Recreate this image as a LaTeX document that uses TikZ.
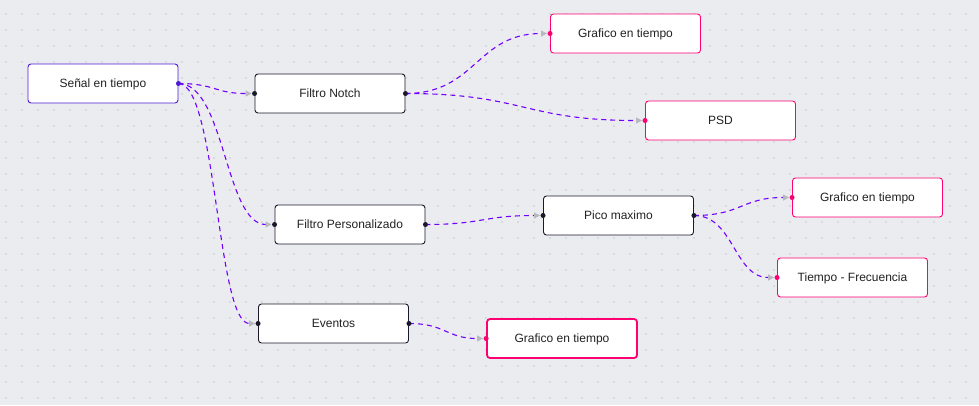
\documentclass[tikz,border=0pt]{standalone}
\usepackage{fontspec}
\setmainfont{Liberation Sans}
\usetikzlibrary{arrows.meta,calc}
\definecolor{bgc}{HTML}{EBECEF}
\definecolor{dotc}{HTML}{9A9AA2}
\definecolor{edgec}{HTML}{7000FF}
\definecolor{srcc}{HTML}{4D1BD6}
\definecolor{darkc}{HTML}{1A192B}
\definecolor{pinkc}{HTML}{FF0072}
\definecolor{tipc}{HTML}{B8B8C0}
\definecolor{txtc}{HTML}{222222}
\tikzset{
  flow/.style={draw=darkc, line width=0.9pt, fill=white, rounded corners=3pt,
    minimum width=150pt, minimum height=39pt, inner sep=0pt,
    text height=10.86pt, text depth=2.54pt,
    font=\fontsize{12pt}{14pt}\selectfont, text=txtc},
  srcnode/.style={flow, draw=srcc},
  outnode/.style={flow, draw=pinkc},
  selnode/.style={flow, draw=pinkc, line width=1.8pt},
  edge/.style={draw=edgec, line width=1.1pt, dash pattern=on 5pt off 4pt,
    -{Triangle[length=6pt,width=6pt,fill=tipc,color=tipc]}},
  hdl/.style={circle, fill=#1, inner sep=0pt, minimum size=5pt}
}
\newcommand\flowedge[2]{%
  \coordinate (tt) at ([xshift=-3pt]#2.west);
  \coordinate (mm) at ($(#1.east)!0.5!(tt)$);
  \draw[edge] (#1.east) .. controls (mm |- #1.east) and (mm |- tt) .. (tt);
}
\begin{document}
\begin{tikzpicture}[x=1pt,y=-1pt]
\fill[bgc] (0,0) rectangle (979,405);
\useasboundingbox (0,0) rectangle (979,405);
\foreach \i in {0,...,61}{
  \foreach \j in {0,...,24}{
    \fill[dotc] (6+16*\i,14+16*\j) circle (0.65);
  }
}
\node[srcnode] (sen) at (103,83.5) {Señal en tiempo};
\node[flow] (notch) at (330,93.5) {Filtro Notch};
\node[outnode] (g1) at (625.5,33.5) {Grafico en tiempo};
\node[outnode] (psd) at (720.5,120.5) {PSD};
\node[flow] (fper) at (350,224.5) {Filtro Personalizado};
\node[flow] (pico) at (618.5,215.5) {Pico maximo};
\node[outnode] (g2) at (867.5,197.5) {Grafico en tiempo};
\node[outnode] (tf) at (852.5,277.5) {Tiempo - Frecuencia};
\node[flow] (evt) at (333.5,323.5) {Eventos};
\node[selnode] (g3) at (562,338.5) {Grafico en tiempo};

\flowedge{sen}{notch}
\flowedge{sen}{fper}
\flowedge{sen}{evt}
\flowedge{notch}{g1}
\flowedge{notch}{psd}
\flowedge{fper}{pico}
\flowedge{pico}{g2}
\flowedge{pico}{tf}
\flowedge{evt}{g3}

\node[hdl=srcc] (hs1) at (sen.east) {};
\node[hdl=darkc] (hn1) at (notch.west) {};
\node[hdl=darkc] (hn2) at (notch.east) {};
\node[hdl=darkc] (hf1) at (fper.west) {};
\node[hdl=darkc] (hf2) at (fper.east) {};
\node[hdl=darkc] (hp1) at (pico.west) {};
\node[hdl=darkc] (hp2) at (pico.east) {};
\node[hdl=darkc] (he1) at (evt.west) {};
\node[hdl=darkc] (he2) at (evt.east) {};
\node[hdl=pinkc] (hg1) at (g1.west) {};
\node[hdl=pinkc] (hps) at (psd.west) {};
\node[hdl=pinkc] (hg2) at (g2.west) {};
\node[hdl=pinkc] (htf) at (tf.west) {};
\node[hdl=pinkc] (hg3) at (g3.west) {};
\end{tikzpicture}
\end{document}
